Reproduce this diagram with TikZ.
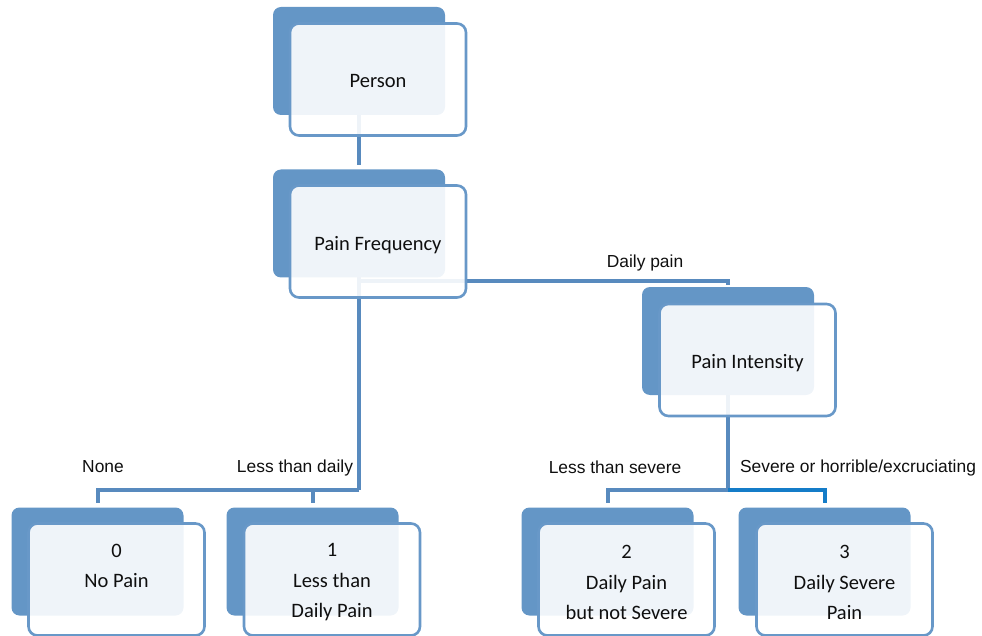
\documentclass[tikz,border=0pt]{standalone}
\usepackage{fontspec}
\setmainfont{Carlito}
\newfontfamily\labfont{Liberation Sans}
\definecolor{backblue}{RGB}{100,150,198}
\definecolor{edgeblue}{RGB}{104,152,200}
\definecolor{linkblue}{RGB}{88,138,190}
\definecolor{brightblue}{RGB}{20,124,200}
\definecolor{txt}{RGB}{15,15,15}
\pgfdeclarelayer{linklayer}
\pgfsetlayers{linklayer,main}
\tikzset{
 backbox/.style={rectangle, rounded corners=8pt, fill=backblue, minimum width=172pt, minimum height=108pt, inner sep=0pt, outer sep=0pt},
 frontbox/.style={rectangle, rounded corners=9pt, draw=edgeblue, line width=2.6pt, fill=white, fill opacity=0.9, minimum width=176pt, minimum height=112pt, inner sep=0pt, outer sep=0pt},
 boxtext/.style={align=center, font=\fontsize{20.5}{30.5}\selectfont, text=txt, inner sep=0pt},
 link/.style={draw=linkblue, line width=4pt},
 lab/.style={font=\labfont\fontsize{17.4}{20}\selectfont, text=txt, inner sep=0pt},
}
\begin{document}
\begin{tikzpicture}[x=1pt,y=-1pt]
\useasboundingbox (0,0) rectangle (982,636);
% back boxes
\node[backbox] (pB) at (359,61) {};
\node[backbox] (fB) at (359,223.5) {};
\node[backbox] (iB) at (728,341) {};
\node[backbox] (b0B) at (97.5,561.5) {};
\node[backbox] (b1B) at (312.5,561.5) {};
\node[backbox] (b2B) at (607.5,561.5) {};
\node[backbox] (b3B) at (824.5,561.5) {};
% front boxes
\node[frontbox] (pF) at (378,79.5) {};
\node[frontbox] (fF) at (378,241.5) {};
\node[frontbox] (iF) at (747.5,360) {};
\node[frontbox] (b0F) at (116.5,579.5) {};
\node[frontbox] (b1F) at (332,579.5) {};
\node[frontbox] (b2F) at (626.5,579.5) {};
\node[frontbox] (b3F) at (844.5,579.5) {};
% box texts
\node[boxtext] (pT) at ([yshift=-2pt]pF.center) {Person};
\node[boxtext] (fT) at ([yshift=-4pt]fF.center) {Pain Frequency};
\node[boxtext] (iT) at ([yshift=-3pt]iF.center) {Pain Intensity};
\node[boxtext] (b0T) at ([yshift=-6pt]b0F.center) {0\\No Pain\\\strut};
\node[boxtext] (b1T) at ([yshift=-3pt]b1F.center) {1\\Less than\\Daily Pain};
\node[boxtext] (b2T) at ([yshift=-3pt]b2F.center) {2\\Daily Pain\\but not Severe};
\node[boxtext] (b3T) at ([yshift=-3pt]b3F.center) {3\\Daily Severe\\Pain};
% junctions
\coordinate (j1) at (359,490);
\coordinate (d1) at (359,281);
\coordinate (j2) at (728,490);
% labels
\node[lab] (lDaily) at (645,263) {Daily pain};
\node[lab] (lNone) at (103,467) {None};
\node[lab] (lLess) at (295,468) {Less than daily};
\node[lab] (lLsev) at (615,467) {Less than severe};
\node[lab] (lSev) at (858,468) {Severe or horrible/excruciating};
\begin{pgfonlayer}{linklayer}
\draw[link, shorten >=4pt] (pB.south) -- (fB.north);
\draw[link] (fB.south) -- (j1);
\draw[link, shorten >=5pt] (j1) -| (b0B.north);
\draw[link, shorten >=5pt] (j1) -| (b1B.north);
\draw[link, shorten >=2pt] (d1) -| (iB.north);
\draw[link] (iB.south) -- (j2);
\draw[link, shorten >=5pt] (j2) -| (b2B.north);
\draw[link, draw=brightblue, shorten >=5pt] (j2) -| (b3B.north);
\end{pgfonlayer}
\end{tikzpicture}
\end{document}
